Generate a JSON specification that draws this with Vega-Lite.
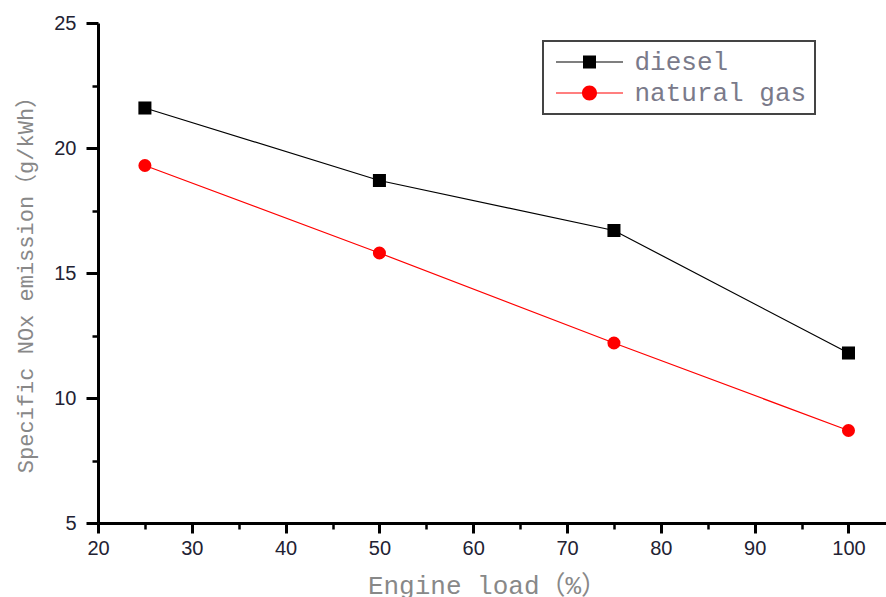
{
  "$schema": "https://vega.github.io/schema/vega-lite/v6.json",
  "width": 788,
  "height": 500,
  "autosize": {"type": "none"},
  "padding": {"left": 98, "top": 23, "right": 0, "bottom": 74},
  "background": "white",
  "data": {"values": [
    {"load": 25, "nox": 21.6, "fuel": "diesel"},
    {"load": 50, "nox": 18.7, "fuel": "diesel"},
    {"load": 75, "nox": 16.7, "fuel": "diesel"},
    {"load": 100, "nox": 11.8, "fuel": "diesel"},
    {"load": 25, "nox": 19.3, "fuel": "natural gas"},
    {"load": 50, "nox": 15.8, "fuel": "natural gas"},
    {"load": 75, "nox": 12.2, "fuel": "natural gas"},
    {"load": 100, "nox": 8.7, "fuel": "natural gas"}
  ]},
  "encoding": {
    "x": {
      "field": "load", "type": "quantitative",
      "scale": {"domain": [20, 104], "nice": false, "zero": false},
      "axis": {
        "values": [20, 25, 30, 35, 40, 45, 50, 55, 60, 65, 70, 75, 80, 85, 90, 95, 100],
        "labelExpr": "datum.value % 10 === 0 ? datum.label : ''",
        "title": "Engine load（%）",
        "titleFont": "Liberation Mono, Noto Sans CJK SC",
        "titleFontSize": 26,
        "titleFontWeight": "normal",
        "titleColor": "#888888",
        "titleX": 389,
        "titleY": 70,
        "titleAnchor": "middle",
        "titleAlign": "center",
        "titleBaseline": "alphabetic",
        "tickSize": {"condition": {"test": "datum.value % 10 === 0", "value": 10}, "value": 6},
        "tickWidth": {"condition": {"test": "datum.value % 10 === 0", "value": 3}, "value": 2.5},
        "labelPadding": 5,
        "labelFlush": false,
        "labelOverlap": false
      }
    },
    "y": {
      "field": "nox", "type": "quantitative",
      "scale": {"domain": [5, 25], "nice": false, "zero": false},
      "axis": {
        "values": [5, 7.5, 10, 12.5, 15, 17.5, 20, 22.5, 25],
        "labelExpr": "datum.value % 5 === 0 ? datum.label : ''",
        "title": "Specific NOx emission（g/kWh）",
        "titleFont": "Liberation Mono, Noto Sans CJK SC",
        "titleFontSize": 22,
        "titleFontWeight": "normal",
        "titleColor": "#888888",
        "titleAngle": 270,
        "titleX": -73,
        "titleY": 256,
        "titleAlign": "center",
        "titleBaseline": "middle",
        "tickSize": {"condition": {"test": "datum.value % 5 === 0", "value": 12}, "value": 6},
        "tickWidth": {"condition": {"test": "datum.value % 5 === 0", "value": 3}, "value": 2.5},
        "labelPadding": 10,
        "labelFlush": false,
        "labelOverlap": false
      }
    }
  },
  "layer": [
    {
      "mark": {"type": "point", "filled": true, "opacity": 0},
      "encoding": {
        "color": {
          "field": "fuel", "type": "nominal",
          "scale": {"domain": ["diesel", "natural gas"], "range": ["#000000", "#ff0000"]},
          "legend": {
            "title": null,
            "orient": "none",
            "legendX": 445,
            "legendY": 18
          }
        },
        "shape": {
          "field": "fuel", "type": "nominal",
          "scale": {"domain": ["diesel", "natural gas"], "range": [
            "M-3.35,-0.06H3.35V0.06H-3.35Z M-0.65,-0.65H0.65V0.65H-0.65Z",
            "M-3.35,-0.06H3.35V0.06H-3.35Z M0.75,0A0.75,0.75 0 1,1 -0.75,0A0.75,0.75 0 1,1 0.75,0Z"
          ]},
          "legend": {
            "title": null,
            "orient": "none",
            "legendX": 445,
            "legendY": 18
          }
        }
      }
    },
    {
      "mark": {"type": "line", "strokeWidth": 1.2},
      "encoding": {
        "color": {"field": "fuel", "type": "nominal", "legend": null}
      }
    },
    {
      "mark": {"type": "point", "filled": true, "opacity": 1, "size": 170},
      "encoding": {
        "color": {"field": "fuel", "type": "nominal", "legend": null},
        "shape": {"condition": {"test": "datum.fuel === 'diesel'", "value": "square"}, "value": "circle"}
      }
    }
  ],
  "config": {
    "view": {"stroke": null},
    "axis": {
      "grid": false,
      "domainColor": "#000000",
      "domainWidth": 3,
      "tickColor": "#000000",
      "labelFont": "Liberation Sans",
      "labelFontSize": 20,
      "labelColor": "#222233"
    },
    "legend": {
      "strokeColor": "#444444",
      "strokeWidth": 2,
      "padding": 8,
      "symbolSize": 400,
      "symbolOffset": 25.5,
      "symbolOpacity": 1,
      "symbolStrokeWidth": 0,
      "labelFont": "Liberation Mono",
      "labelFontSize": 26,
      "labelLimit": 400,
      "labelColor": "#7a7a8a",
      "labelOffset": 32,
      "rowPadding": 5
    }
  }
}
